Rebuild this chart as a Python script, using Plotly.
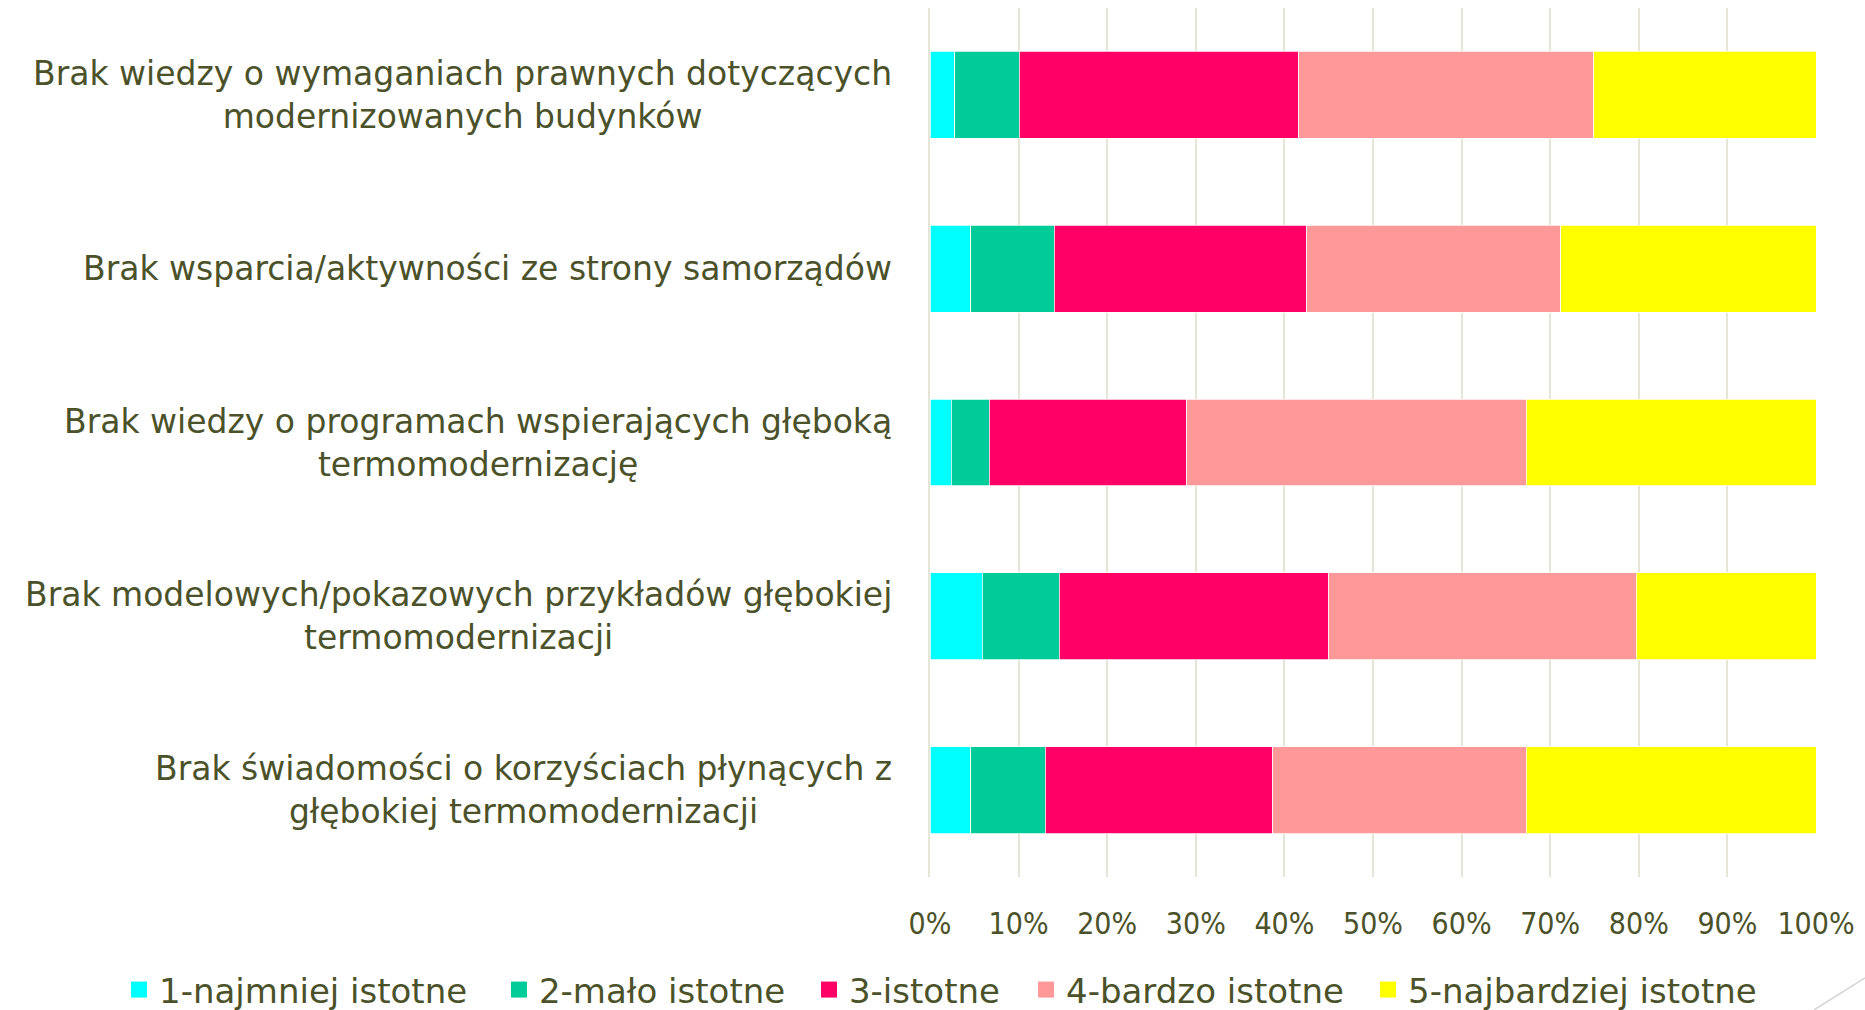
import plotly.graph_objects as go

categories = [
    "Brak wiedzy o wymaganiach prawnych dotyczących<br>modernizowanych budynków",
    "Brak wsparcia/aktywności ze strony samorządów",
    "Brak wiedzy o programach wspierających głęboką<br>termomodernizację",
    "Brak modelowych/pokazowych przykładów głębokiej<br>termomodernizacji",
    "Brak świadomości o korzyściach płynących z<br>głębokiej termomodernizacji",
]
series_names = ["1-najmniej istotne", "2-mało istotne", "3-istotne", "4-bardzo istotne", "5-najbardziej istotne"]
s1 = [2.8, 4.6, 2.4, 5.9, 4.6]
s2 = [7.3, 9.4, 4.3, 8.7, 8.4]
s3 = [31.5, 28.5, 22.3, 30.4, 25.7]
s4 = [33.3, 28.7, 38.3, 34.7, 28.6]
s5 = [25.1, 28.8, 32.7, 20.3, 32.7]
tick_vals = [0, 10, 20, 30, 40, 50, 60, 70, 80, 90, 100]
tick_text = ["0%", "10%", "20%", "30%", "40%", "50%", "60%", "70%", "80%", "90%", "100%"]
colors = ["#00FFFF", "#00CC99", "#FF0066", "#FF9999", "#FFFF00"]

FONT = "DejaVu Sans"
TXT = "#4B5229"

legend_ids = ["legend", "legend2", "legend3", "legend4", "legend5"]
legend_x = [-0.9153, -0.4865, -0.1366, 0.1084, 0.4944]

fig = go.Figure()
for name, vals, col in zip(series_names, [s1, s2, s3, s4, s5], colors):
    fig.add_trace(go.Bar(
        y=categories, x=vals, name=name, orientation="h", showlegend=False,
        legendgroup=name,
        marker=dict(color=col, line=dict(color="white", width=0.75)),
    ))
# legend entries with larger square swatches, one legend box per entry
for name, col, lid in zip(series_names, colors, legend_ids):
    fig.add_trace(go.Scatter(
        x=[None], y=[None], mode="markers", name=name, legendgroup=name,
        legend=lid, marker=dict(symbol="square", size=16, color=col),
    ))

for c in categories:
    fig.add_annotation(
        x=0, xref="paper", y=c, yref="y", xanchor="right", yanchor="middle",
        xshift=-36, text=c, showarrow=False, align="center",
        font=dict(family=FONT, size=33, color=TXT),
    )

fig.add_shape(type="line", xref="paper", yref="paper",
              x0=0.9977, y0=-0.153, x1=1.0553, y1=-0.116,
              line=dict(color="#D4D4D4", width=1.5))

legend_common = dict(orientation="h", xanchor="left", y=-0.13, yanchor="middle",
                     font=dict(family=FONT, size=34, color=TXT),
                     itemwidth=30, itemsizing="trace", bgcolor="rgba(0,0,0,0)")
legend_layout = {lid: dict(x=lx, **legend_common) for lid, lx in zip(legend_ids, legend_x)}

fig.update_layout(
    barmode="stack", bargap=0.5,
    width=1865, height=1010,
    margin=dict(l=930, r=49, t=8, b=133, autoexpand=False),
    paper_bgcolor="white", plot_bgcolor="white",
    font=dict(family=FONT, color=TXT, size=31),
    showlegend=True,
    xaxis=dict(range=[0, 100], tickvals=tick_vals, ticktext=tick_text,
               showgrid=True, gridcolor="#E6E6D6", gridwidth=1.5,
               zeroline=False, showline=False, ticks="", ticklabelstandoff=26,
               tickfont=dict(family="DejaVu Sans Condensed", size=30, color=TXT),
               fixedrange=True),
    yaxis=dict(autorange="reversed", showticklabels=False, showgrid=False,
               showline=True, linecolor="#E6E6D6", linewidth=1.5, zeroline=False),
    **legend_layout,
)
fig.write_html("out.html", config={"displayModeBar": False},
               post_script="document.body.style.margin='0px';")
